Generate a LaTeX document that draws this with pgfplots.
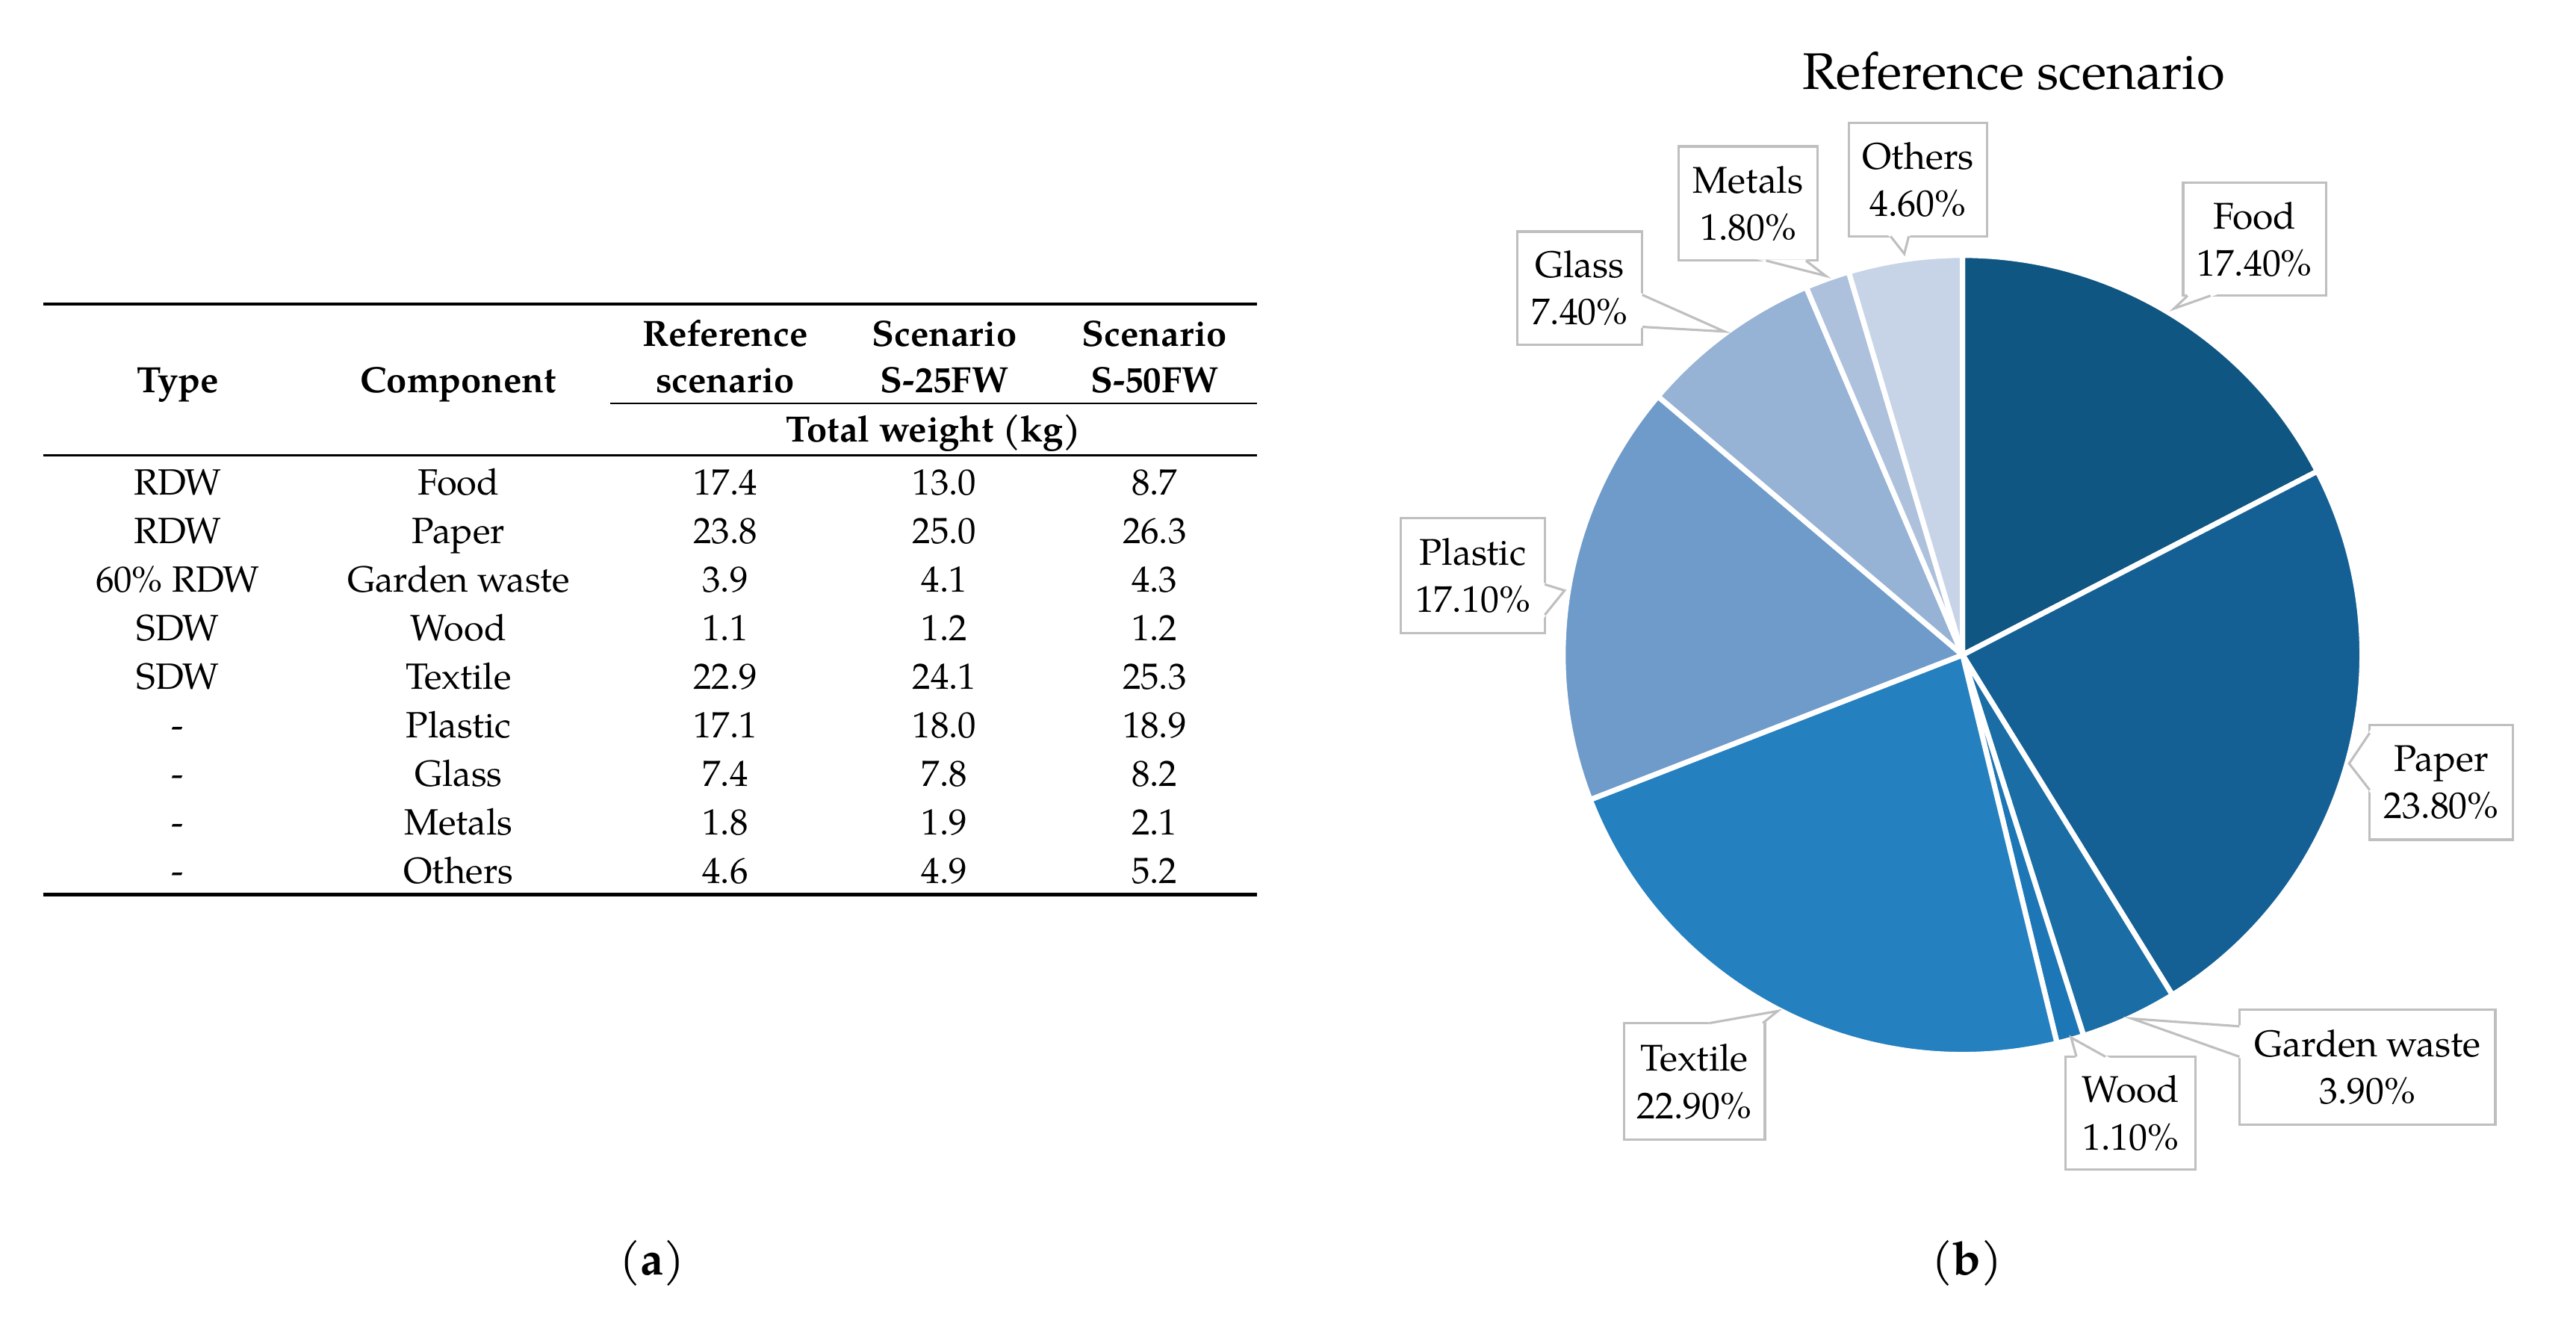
\documentclass[border=0pt]{standalone}
\usepackage{pgfplots}
\usepackage{pgfplotstable}
\usepackage{fontspec}
\setmainfont{TeX Gyre Pagella}
\pgfplotsset{compat=1.18}

\definecolor{cFood}{HTML}{105682}
\definecolor{cPaper}{HTML}{146095}
\definecolor{cGarden}{HTML}{1A6DA5}
\definecolor{cWood}{HTML}{1D76B5}
\definecolor{cTextile}{HTML}{2480BF}
\definecolor{cPlastic}{HTML}{6F9BCA}
\definecolor{cGlass}{HTML}{96B2D5}
\definecolor{cMetals}{HTML}{ADC1DD}
\definecolor{cOthers}{HTML}{C7D4E7}
\definecolor{boxgray}{HTML}{BFBFBF}

% reference scenario shares (%)
\pgfplotstableread{
name value col
Food 17.4 cFood
Paper 23.8 cPaper
Garden 3.9 cGarden
Wood 1.1 cWood
Textile 22.9 cTextile
Plastic 17.1 cPlastic
Glass 7.4 cGlass
Metals 1.8 cMetals
Others 4.6 cOthers
}\piedata

\newcommand{\tfont}{\fontsize{11}{13}\selectfont}
\newcommand{\lfont}{\fontsize{11.2}{14.3}\selectfont}

% box: x1,y1,x2,y2,text
\newcommand{\lbox}[5]{%
  \filldraw[draw=boxgray,fill=white,line width=0.7pt] (#1,#2) rectangle (#3,#4);
  \node[align=center,font=\lfont,inner sep=0pt] at ({(#1+#3)/2},{(#2+#4)/2}) {#5};
}
% pointer: base1, tip, base2
\newcommand{\lptr}[6]{%
  \filldraw[draw=white,fill=white,line width=0.7pt] (#1,#2) -- (#3,#4) -- (#5,#6) -- cycle;
  \draw[boxgray,line width=0.7pt,line join=miter] (#1,#2) -- (#3,#4) -- (#5,#6);
}

\begin{document}
\begin{tikzpicture}[x=0.5pt,y=-0.5pt]
\path[use as bounding box] (0,0) rectangle (1552,800.5);

%% (a) table
\draw[line width=1pt] (26,183.2) -- (757.3,183.2);
\draw[line width=0.6pt] (367.6,243) -- (757.3,243);
\draw[line width=0.6pt] (26,274.2) -- (757.3,274.2);
\draw[line width=1pt] (26,538.8) -- (757.3,538.8);

\begin{scope}[every node/.style={anchor=base,inner sep=0pt,font=\tfont}]
\node[font=\tfont\bfseries] at (107,236.6) {Type};
\node[font=\tfont\bfseries] at (276.2,236.6) {Component};
\node[font=\tfont\bfseries] at (436.9,208.8) {Reference};
\node[font=\tfont\bfseries] at (436.9,236.4) {scenario};
\node[font=\tfont\bfseries] at (569,208.8) {Scenario};
\node[font=\tfont\bfseries] at (569,236.4) {S-25FW};
\node[font=\tfont\bfseries] at (695.6,208.8) {Scenario};
\node[font=\tfont\bfseries] at (695.6,236.4) {S-50FW};
\node[font=\tfont\bfseries] at (562.5,266.1) {Total weight (kg)};

\foreach \ty/\co/\ra/\rb/\rc [count=\k from 0] in {
  RDW/Food/17.4/13.0/8.7,
  RDW/Paper/23.8/25.0/26.3,
  60\% RDW/Garden waste/3.9/4.1/4.3,
  SDW/Wood/1.1/1.2/1.2,
  SDW/Textile/22.9/24.1/25.3,
  -/Plastic/17.1/18.0/18.9,
  -/Glass/7.4/7.8/8.2,
  -/Metals/1.8/1.9/2.1,
  -/Others/4.6/4.9/5.2}{
  \pgfmathsetmacro\yy{298.3+29.2*\k}
  \node at (107,\yy) {\ty};
  \node at (276.2,\yy) {\co};
  \node at (436.9,\yy) {\ra};
  \node at (569,\yy) {\rb};
  \node at (695.6,\yy) {\rc};
}
\end{scope}

\node[font=\fontsize{14}{16}\selectfont] at (393,761) {(\textbf{a})};

%% (b) pie
\node[font=\fontsize{15.5}{18}\selectfont] at (1213.4,42.6) {Reference scenario};

\begin{axis}[
  at={(591.2pt,-197.25pt)}, anchor=center,
  x=120.35pt, y=120.35pt,
  xmin=-1, xmax=1, ymin=-1, ymax=1,
  hide axis, clip=false,
]
\pgfmathsetmacro\acc{0}
\pgfplotsforeachungrouped \i in {0,...,8}{%
  \pgfplotstablegetelem{\i}{value}\of\piedata \let\val\pgfplotsretval
  \pgfplotstablegetelem{\i}{col}\of\piedata \let\col\pgfplotsretval
  \pgfmathsetmacro\sa{90-3.6*\acc}
  \pgfmathsetmacro\acc{\acc+\val}
  \pgfmathsetmacro\ea{90-3.6*\acc}
  \edef\doslice{\noexpand\filldraw[fill=\col,draw=white,line width=1.6pt,line join=round]
    (axis cs:0,0) -- ++(\sa:120.35pt) arc[start angle=\sa,end angle=\ea,radius=120.35pt] -- cycle;}%
  \doslice
}
\end{axis}

% callout labels
\lbox{1113.8}{73.9}{1197.3}{142.3}{Others\\4.60\%}
\lptr{1139}{142.3}{1147.3}{152.9}{1150}{142.3}
\lbox{1011.5}{88.2}{1095}{157}{Metals\\1.80\%}
\lptr{1064}{157}{1100}{166.2}{1088}{157}
\lbox{914.2}{139.5}{989.4}{207.5}{Glass\\7.40\%}
\lptr{989.4}{177.6}{1039}{199.7}{989.4}{196.9}
\lbox{1315.3}{110.2}{1401.5}{178.1}{Food\\17.40\%}
\lptr{1318}{178.1}{1309.8}{185.9}{1331.8}{178.1}
\lbox{844}{312.1}{930.7}{381.4}{Plastic\\17.10\%}
\lptr{930.7}{352}{942.6}{355.7}{930.7}{370.4}
\lbox{1427.7}{436.9}{1514}{505.8}{Paper\\23.80\%}
\lptr{1427.7}{441.5}{1415.3}{459.9}{1427.7}{475.9}
\lbox{1349.2}{608.1}{1503.4}{677.4}{Garden waste\\3.90\%}
\lptr{1349.2}{618.2}{1284.5}{613.6}{1349.2}{636.5}
\lbox{1244.6}{636.5}{1322.6}{704.4}{Wood\\1.10\%}
\lptr{1251}{636.5}{1247.8}{625}{1268.5}{636.5}
\lbox{978.4}{616.3}{1063.3}{686.6}{Textile\\22.90\%}
\lptr{1029.8}{616.3}{1071.1}{609}{1062}{616.3}

\node[font=\fontsize{14}{16}\selectfont] at (1185,761) {(\textbf{b})};
\end{tikzpicture}
\end{document}
